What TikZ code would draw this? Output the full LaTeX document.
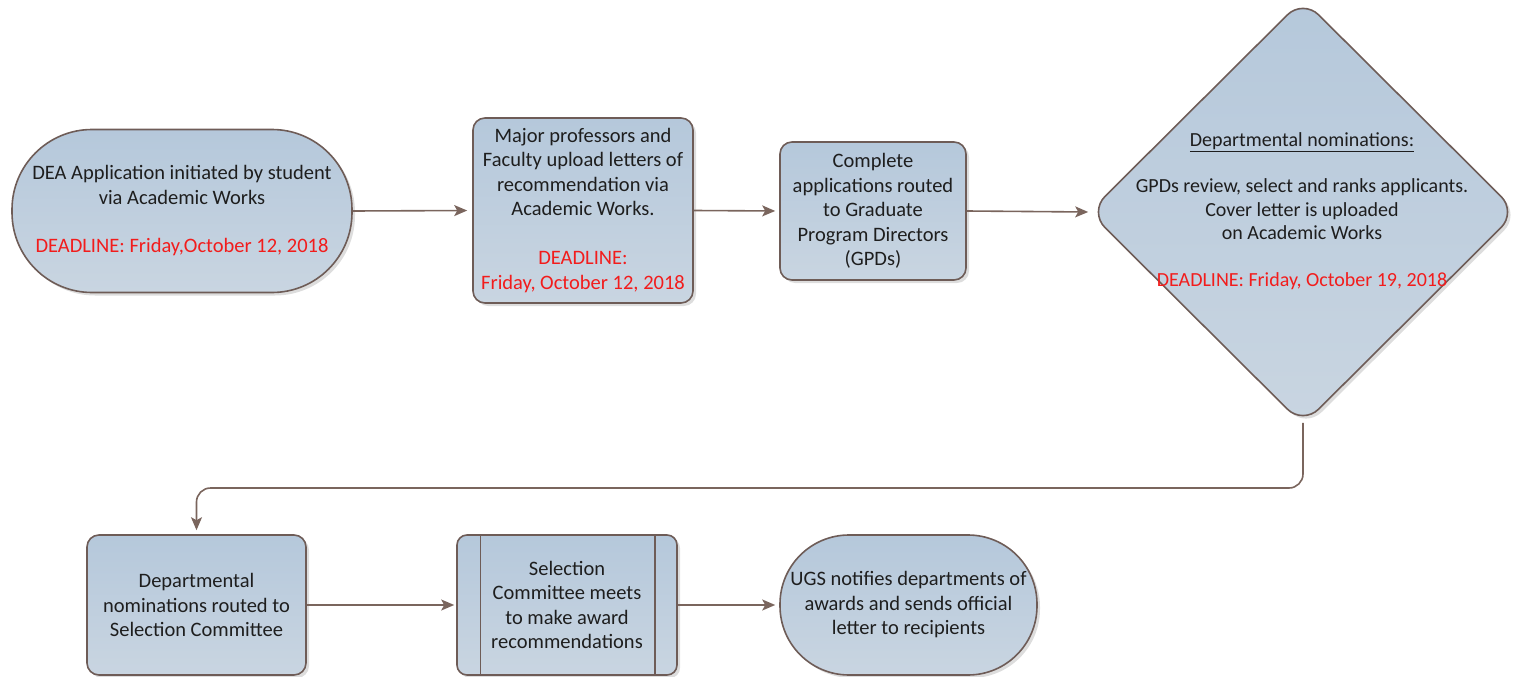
\documentclass[tikz,border=0pt]{standalone}
\usepackage{fontspec}
\setmainfont{Carlito}
\usetikzlibrary{arrows.meta,shapes.geometric,shadows}
\definecolor{boxtop}{HTML}{B5C8DB}
\definecolor{boxbot}{HTML}{C9D5E1}
\definecolor{edge}{HTML}{6E5C57}
\definecolor{arrowc}{HTML}{7A655D}
\definecolor{txt}{HTML}{1E1E1E}
\definecolor{dl}{HTML}{F21C1C}
\tikzset{
  shape box/.style={draw=edge, line width=1.6pt, top color=boxtop, bottom color=boxbot,
    drop shadow={shadow xshift=3pt, shadow yshift=-3pt, fill=black!22, opacity=.6},
    inner sep=0pt, align=center, text=txt, font=\fontsize{20.5}{24.5}\selectfont},
  procbox/.style={shape box, rectangle, rounded corners=12pt},
  termbox/.style={shape box, rectangle},
  decbox/.style={shape box, diamond, aspect=1, rounded corners=22pt},
  lbl/.style={align=center, text=txt, inner sep=0pt, font=\fontsize{20}{23.5}\selectfont},
  arr/.style={draw=arrowc, line width=1.6pt, -{Stealth[length=13pt,width=11pt,inset=3pt]}},
}
\begin{document}
\begin{tikzpicture}[x=1pt,y=-1pt]
\useasboundingbox (0,0) rectangle (1519,677);

% top row
\node[termbox, rounded corners=80pt, minimum width=340pt, minimum height=163pt] (A) at (182,211)
  {DEA Application initiated by student\\via Academic Works\\[24pt]\textcolor{dl}{DEADLINE: Friday,October 12, 2018}};
\node[procbox, minimum width=220pt, minimum height=185pt] (B) at (583,210.5)
  {Major professors and\\Faculty upload letters of\\recommendation via\\Academic Works.\\[24.5pt]\textcolor{dl}{DEADLINE:}\\\textcolor{dl}{Friday, October 12, 2018}};
\node[procbox, minimum width=186pt, minimum height=138pt] (C) at (873,211)
  {Complete\\applications routed\\to Graduate\\Program Directors\\(GPDs)};
\node[decbox, minimum width=428pt, minimum height=426pt] (D) at (1303,212) {};
\node[lbl] (Dt) at (1302,211)
  {\underline{Departmental nominations:}\\[23pt]GPDs review, select and ranks applicants.\\Cover letter is uploaded\\on Academic Works\\[23pt]\textcolor{dl}{DEADLINE: Friday, October 19, 2018}};

% bottom row
\node[procbox, minimum width=219pt, minimum height=140pt] (E) at (196.5,605)
  {Departmental\\nominations routed to\\Selection Committee};
\node[procbox, rounded corners=10pt, minimum width=220pt, minimum height=140pt] (F) at (567,605)
  {Selection\\Committee meets\\to make award\\recommendations};
\draw[edge, line width=1.4pt] ([xshift=24pt]F.north west) -- ([xshift=24pt]F.south west);
\draw[edge, line width=1.4pt] ([xshift=-23pt]F.north east) -- ([xshift=-23pt]F.south east);
\node[termbox, rounded corners=69pt, minimum width=257pt, minimum height=140pt] (G) at (908.5,605)
  {UGS notifies departments of\\awards and sends official\\letter to recipients};

% connectors
\coordinate (turn) at (0,488);
\draw[arr, shorten >=5pt] (A.east) -- (B.west);
\draw[arr, shorten >=4pt] (B.east) -- (C.west);
\draw[arr, shorten >=0pt] (C.east) -- (D.west);
\draw[arr, rounded corners=14pt, shorten <=-3pt, shorten >=4pt] (D.south) -- (D.south |- turn) -- (E.north |- turn) -- (E.north);
\draw[arr, shorten >=2pt] (E.east) -- (F.west);
\draw[arr, shorten >=4pt] (F.east) -- (G.west);
\end{tikzpicture}
\end{document}
